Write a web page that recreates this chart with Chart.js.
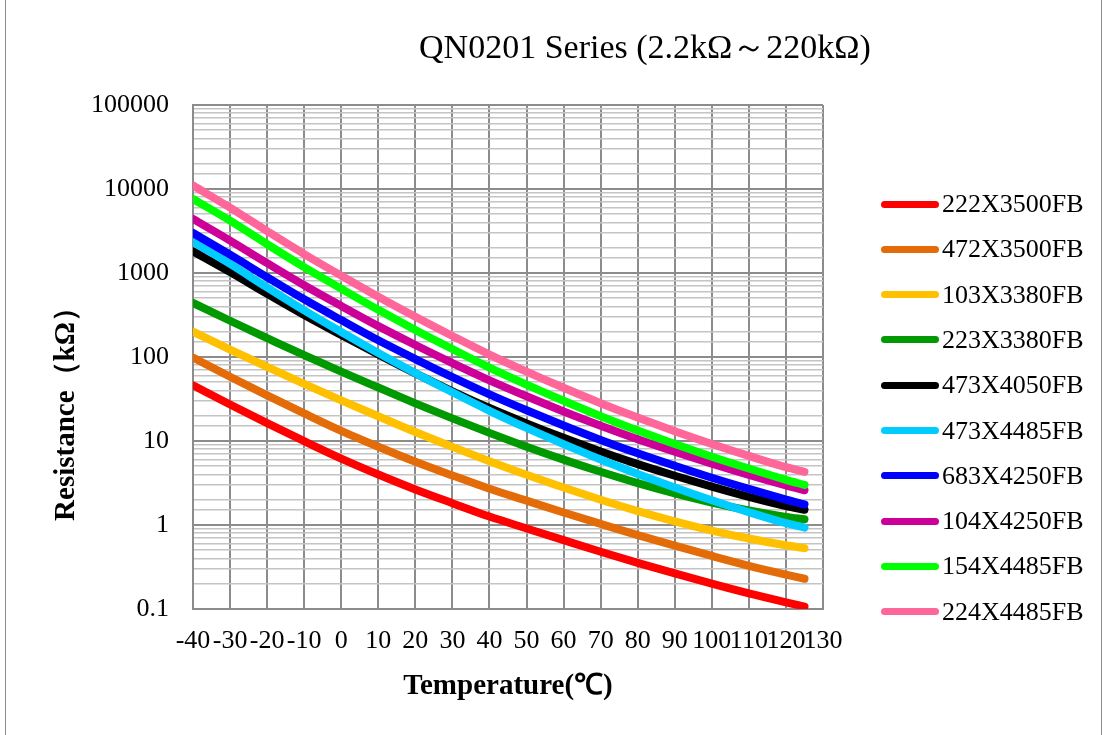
<!DOCTYPE html>
<html>
<head>
<meta charset="utf-8">
<script src="https://cdn.jsdelivr.net/npm/chart.js@4.4.1/dist/chart.umd.min.js"></script>
<style>
  html, body { margin: 0; padding: 0; background: #ffffff; }
  #wrap { position: relative; width: 1108px; height: 735px; overflow: hidden; background: #fff; }
  #frame { position: absolute; left: 5px; top: -2px; width: 1097px; height: 745px; border: 1px solid #8c8c8c; box-sizing: border-box; pointer-events: none; }
  canvas { position: absolute; left: 0; top: 0; }
  .serif { font-family: 'Liberation Serif', 'Times New Roman', serif; color: #000; white-space: nowrap; }
  #title { position: absolute; left: 0; width: 1290px; top: 27px; height: 40px; line-height: 40px; text-align: center; font-size: 34px; }
  #ytitle { position: absolute; left: -86px; top: 387px; width: 300px; height: 40px; line-height: 40px; text-align: center;
            font-size: 29px; font-weight: bold; transform: rotate(-90deg); transform-origin: 150px 20px; }
  .lg { position: absolute; left: 881px; height: 30px; display: flex; align-items: center; white-space: nowrap; }
  .lg .sw { display: inline-block; width: 58px; height: 7px; border-radius: 4px; }
  .lg .tx { margin-left: 3px; font-size: 26px; }
</style>
</head>
<body>
<div id="wrap">
  <canvas id="c" width="1108" height="735"></canvas>
  <div id="title" class="serif">QN0201 Series (2.2kΩ～220kΩ)</div>
  <div id="ytitle" class="serif">Resistance（kΩ）</div>
  <div id="legend"></div>
  <div id="frame"></div>
</div>
<script>
// ---- data ----
const temps = [-40, -30, -20, -10, 0, 10, 20, 30, 40, 50, 60, 70, 80, 90, 100, 110, 120, 125];

const seriesNames = ['222X3500FB', '472X3500FB', '103X3380FB', '223X3380FB', '473X4050FB',
                     '473X4485FB', '683X4250FB', '104X4250FB', '154X4485FB', '224X4485FB'];
const seriesColors = ['#FF0000', '#E36C09', '#FFC000', '#009900', '#000000',
                      '#00CCFF', '#0000FF', '#CC0099', '#00FF00', '#FF6699'];

const r222X3500 = [46.0, 27.2, 16.3, 9.95, 6.18, 3.99, 2.65, 1.82, 1.26, 0.91, 0.66, 0.48, 0.354, 0.265, 0.2, 0.153, 0.12, 0.107];
const r472X3500 = [98.4, 58.2, 34.9, 21.3, 13.2, 8.54, 5.67, 3.89, 2.70, 1.95, 1.41, 1.03, 0.758, 0.567, 0.428, 0.327, 0.257, 0.229];
const r103X3380 = [200, 122.7, 76.2, 47.9, 30.5, 19.7, 12.8, 8.51, 5.75, 3.96, 2.79, 2.0, 1.466, 1.107, 0.859, 0.690, 0.574, 0.530];
const r223X3380 = [440, 270, 168, 105, 67, 43.3, 28.1, 18.6, 12.5, 8.55, 6.0, 4.3, 3.15, 2.38, 1.85, 1.49, 1.25, 1.17];
const r473X4050 = [1810, 1025, 565, 316, 183, 107, 63.7, 39.1, 24.7, 16.2, 10.9, 7.5, 5.3, 3.86, 2.86, 2.16, 1.68, 1.52];
const r473X4485 = [2350, 1282, 673, 359, 198.6, 111.3, 64.3, 38.0, 22.9, 14.3, 9.18, 6.02, 4.06, 2.80, 1.97, 1.42, 1.05, 0.93];
const r683X4250 = [2990, 1652, 891, 486, 275, 158, 94.5, 57.6, 35.9, 23.2, 15.3, 10.3, 7.14, 5.07, 3.65, 2.69, 2.01, 1.76];
const r104X4250 = [4400, 2430, 1310, 715, 405, 233, 139, 84.7, 52.8, 34.1, 22.5, 15.2, 10.5, 7.45, 5.37, 3.95, 2.96, 2.59];
const r154X4485 = [7600, 4200, 2200, 1175, 650, 364, 210, 124.5, 74.8, 46.9, 30.1, 19.7, 13.3, 9.2, 6.5, 4.7, 3.45, 3.0];
const r224X4485 = [11000, 6000, 3150, 1680, 930, 521, 301, 178, 107, 67.0, 43.0, 28.2, 19.0, 13.1, 9.23, 6.64, 4.88, 4.3];

const seriesValues = [r222X3500, r472X3500, r103X3380, r223X3380, r473X4050,
                      r473X4485, r683X4250, r104X4250, r154X4485, r224X4485];

const xMin = -40, xMax = 130, xStep = 10;
const yMin = 0.1, yMax = 100000;
const yTickLabels = ['0.1', '1', '10', '100', '1000', '10000', '100000'];
const xTitle = 'Temperature(℃)';

// ---- chart ----
function isDecade(v) {
  const l = Math.log10(v);
  return Math.abs(l - Math.round(l)) < 1e-9;
}

const datasets = seriesNames.map((name, i) => ({
  label: name,
  data: temps.map((t, j) => ({ x: t, y: seriesValues[i][j] })),
  borderColor: seriesColors[i],
  backgroundColor: seriesColors[i],
  borderWidth: 8,
  borderCapStyle: 'round',
  borderJoinStyle: 'round',
  pointRadius: 0,
  pointHoverRadius: 0,
  tension: 0.4,
  cubicInterpolationMode: 'monotone',
  fill: false,
  clip: 0,
  order: seriesNames.length - i
}));

const serif = "'Liberation Serif', 'Times New Roman', serif";

new Chart(document.getElementById('c'), {
  type: 'line',
  data: { datasets },
  options: {
    responsive: false,
    animation: false,
    devicePixelRatio: 1,
    layout: { padding: { left: 44, right: 285, top: 105, bottom: 27 } },
    plugins: { legend: { display: false }, title: { display: false }, tooltip: { enabled: false } },
    scales: {
      x: {
        type: 'linear',
        min: xMin, max: xMax,
        afterFit: (s) => { s.height = 99; },
        afterBuildTicks: (s) => {
          const t = [];
          for (let v = xMin; v <= xMax; v += xStep) t.push({ value: v });
          s.ticks = t;
        },
        ticks: {
          autoSkip: false, maxRotation: 0, minRotation: 0, padding: 17,
          color: '#000', font: { family: serif, size: 26 },
          callback: (v) => String(v)
        },
        grid: { color: '#8c8c8c', lineWidth: 2, drawTicks: false },
        border: { display: true, color: '#8c8c8c', width: 2 },
        title: { display: true, text: xTitle, color: '#000', font: { family: serif, size: 29, weight: 'bold' } }
      },
      y: {
        type: 'logarithmic',
        min: yMin, max: yMax,
        afterFit: (s) => { s.width = 149; },
        ticks: {
          autoSkip: false, padding: 24,
          color: '#000', font: { family: serif, size: 26 },
          callback: (v) => {
            if (!isDecade(v)) return '';
            const idx = Math.round(Math.log10(v) - Math.log10(yMin));
            return yTickLabels[idx] !== undefined ? yTickLabels[idx] : '';
          }
        },
        grid: {
          drawTicks: false,
          color: (ctx) => (ctx.tick && isDecade(ctx.tick.value)) ? '#8c8c8c' : '#c4c4c4',
          lineWidth: (ctx) => (ctx.tick && isDecade(ctx.tick.value)) ? 2 : 1.6
        },
        border: { display: true, color: '#8c8c8c', width: 2 },
        title: { display: false }
      }
    }
  }
});

// ---- legend (HTML text) ----
const legendEl = document.getElementById('legend');
seriesNames.forEach((name, i) => {
  const row = document.createElement('div');
  row.className = 'lg serif';
  row.style.top = (204 + i * 45.3 - 15) + 'px';
  const sw = document.createElement('span');
  sw.className = 'sw';
  sw.style.background = seriesColors[i];
  const tx = document.createElement('span');
  tx.className = 'tx';
  tx.textContent = name;
  row.appendChild(sw);
  row.appendChild(tx);
  legendEl.appendChild(row);
});
</script>
</body>
</html>
